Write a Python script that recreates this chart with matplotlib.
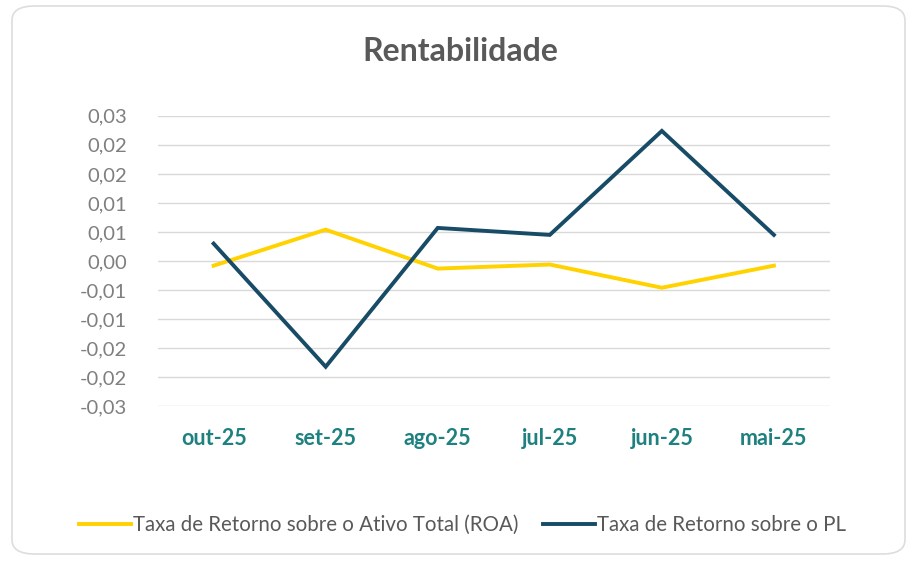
import matplotlib
matplotlib.use('Agg')
import matplotlib.pyplot as plt
from matplotlib.patches import FancyBboxPatch
from matplotlib.lines import Line2D

# Data
months = ['out-25', 'set-25', 'ago-25', 'jul-25', 'jun-25', 'mai-25']
roa = [-0.0008, 0.0054, -0.0013, -0.0006, -0.0046, -0.0008]
roe = [0.0030, -0.0182, 0.0057, 0.0045, 0.0224, 0.0045]
yticks = [-0.025, -0.02, -0.015, -0.01, -0.005, 0.0, 0.005, 0.01, 0.015, 0.02, 0.025]
ytick_labels = ['-0,03', '-0,02', '-0,02', '-0,01', '-0,01', '0,00',
                '0,01', '0,01', '0,02', '0,02', '0,03']

YELLOW = '#FFD200'
NAVY = '#174B66'
GRAY = '#7F7F7F'
TEAL = '#1F8080'

plt.rcParams['font.family'] = ['Lato', 'DejaVu Sans']

fig = plt.figure(figsize=(9.11, 5.65), dpi=100)

# rounded outer frame, kept behind the axes
frame = FancyBboxPatch((12 / 911, 11 / 565), 893 / 911, 548 / 565,
                       boxstyle='round,pad=0,rounding_size=0.025',
                       transform=fig.transFigure, facecolor='none',
                       edgecolor='#DDDDDD', linewidth=1.2, zorder=-1)
fig.patches.append(frame)

ax = fig.add_axes([0.173, 0.281, 0.738, 0.514])
ax.set_facecolor('none')

x = list(range(len(months)))
ax.plot(x, roa, color=YELLOW, lw=2.8, solid_joinstyle='miter', zorder=3)
ax.plot(x, roe, color=NAVY, lw=2.8, solid_joinstyle='miter', zorder=4)

ax.set_xlim(-0.5, len(months) - 0.5)
ax.set_ylim(-0.025, 0.025)
ax.set_yticks(yticks)
ax.set_yticklabels(ytick_labels, color=GRAY, fontsize=14.5)
ax.set_xticks(x)
ax.set_xticklabels(months, color=TEAL, fontsize=15.5, fontweight='bold')
ax.tick_params(axis='both', length=0)
ax.tick_params(axis='x', pad=16)
ax.tick_params(axis='y', pad=22)
ax.grid(axis='y', color='#D9D9D9', lw=1)
ax.set_axisbelow(True)
for s in ax.spines.values():
    s.set_visible(False)

fig.text(0.505, 0.908, 'Rentabilidade', ha='center', va='center',
         fontsize=23, fontweight='bold', color='#595959')

handles = [Line2D([], [], color=YELLOW, lw=2.8),
           Line2D([], [], color=NAVY, lw=2.8)]
fig.legend(handles, ['Taxa de Retorno sobre o Ativo Total (ROA)',
                     'Taxa de Retorno sobre o PL'],
           loc='center', bbox_to_anchor=(0.508, 0.071), ncol=2, frameon=False,
           fontsize=14.8, handlelength=2.5, handletextpad=0.12, columnspacing=1.2,
           labelcolor='#595959')

fig.savefig('out.png', dpi=100)
